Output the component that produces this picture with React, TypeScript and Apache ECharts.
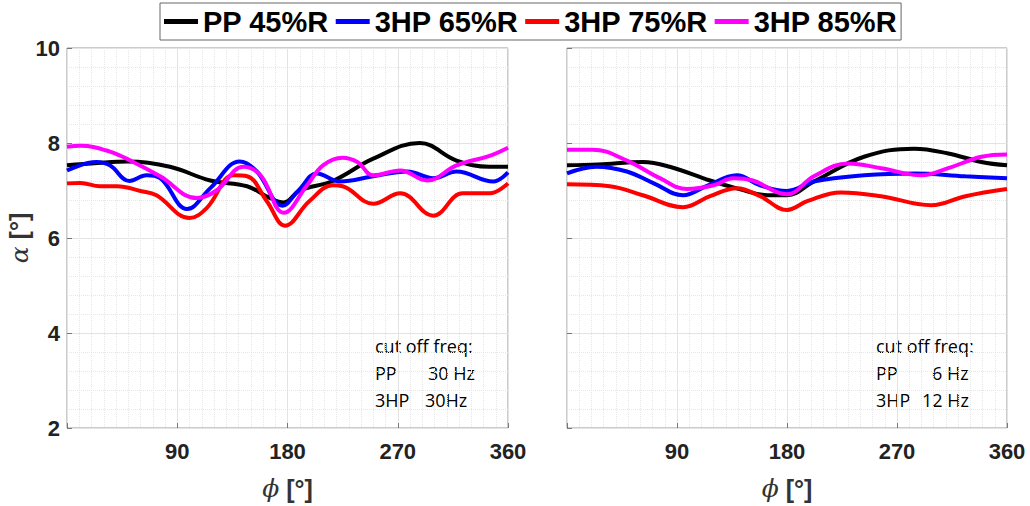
import React, { useEffect, useRef } from 'react';
import * as echarts from 'echarts';

const seriesNames = ['PP 45%R', '3HP 65%R', '3HP 75%R', '3HP 85%R'];
const seriesColors = ['#000000', '#0000ff', '#ff0000', '#ff00ff'];
const xTicks = [0, 90, 180, 270, 360];
const yTicks = [2, 4, 6, 8, 10];

// Left panel (cut off freq 30 Hz / 30 Hz)
const leftPP = [[0, 7.53], [25, 7.58], [50, 7.61], [84, 7.5], [117, 7.21], [147, 7.09], [165, 6.85], [177, 6.75], [190, 7.0], [217, 7.2], [250, 7.67], [288, 8.0], [318, 7.63], [345, 7.5], [360, 7.5]];
const left65 = [[0, 7.42], [24, 7.6], [35, 7.53], [51, 7.2], [65, 7.32], [76, 7.26], [98, 6.61], [117, 7.05], [141, 7.61], [155, 7.4], [176, 6.68], [189, 7.0], [204, 7.36], [223, 7.19], [250, 7.3], [278, 7.4], [299, 7.26], [318, 7.4], [348, 7.19], [360, 7.38]];
const left75 = [[0, 7.15], [11, 7.16], [27, 7.09], [41, 7.09], [60, 6.99], [73, 6.9], [100, 6.42], [114, 6.63], [136, 7.32], [147, 7.3], [163, 6.78], [178, 6.26], [198, 6.78], [217, 7.11], [225, 7.09], [250, 6.72], [272, 6.94], [299, 6.47], [323, 6.94], [345, 6.94], [360, 7.15]];
const left85 = [[0, 7.92], [11, 7.94], [35, 7.82], [54, 7.6], [76, 7.3], [106, 6.84], [122, 7.0], [144, 7.5], [158, 7.32], [177, 6.53], [196, 7.11], [209, 7.53], [225, 7.69], [237, 7.6], [250, 7.32], [272, 7.42], [294, 7.21], [318, 7.53], [345, 7.73], [360, 7.9]];

// Right panel (cut off freq 6 Hz / 12 Hz)
const rightPP = [[0, 7.53], [26, 7.55], [62, 7.6], [84, 7.5], [117, 7.21], [141, 7.03], [164, 6.9], [180, 6.9], [202, 7.19], [243, 7.71], [284, 7.88], [312, 7.78], [339, 7.6], [360, 7.53]];
const right65 = [[0, 7.36], [24, 7.5], [49, 7.4], [71, 7.15], [95, 6.9], [114, 7.09], [139, 7.32], [158, 7.11], [180, 6.99], [202, 7.19], [243, 7.32], [284, 7.36], [326, 7.3], [360, 7.26]];
const right75 = [[0, 7.13], [35, 7.09], [62, 6.9], [95, 6.65], [117, 6.88], [139, 7.05], [158, 6.88], [180, 6.59], [197, 6.78], [224, 6.96], [257, 6.88], [298, 6.69], [326, 6.88], [360, 7.03]];
const right85 = [[0, 7.86], [21, 7.86], [49, 7.63], [76, 7.26], [98, 7.03], [120, 7.11], [136, 7.26], [152, 7.21], [180, 6.92], [202, 7.3], [230, 7.57], [257, 7.47], [290, 7.32], [312, 7.47], [339, 7.71], [360, 7.76]];

const leftNote = ['cut off freq:', 'PP', '30 Hz', '3HP', '30Hz'];
const rightNote = ['cut off freq:', 'PP', '6 Hz', '3HP', '12 Hz'];

const leftData = [leftPP, left65, left75, left85];
const rightData = [rightPP, right65, right75, right85];

const FONT = 'Liberation Sans, Arial, sans-serif';

export default function App() {
  const ref = useRef<HTMLDivElement>(null);
  useEffect(() => {
    const chart = echarts.init(ref.current!, null, { renderer: 'svg' });

    const nameStyle = {
      fontFamily: FONT, fontSize: 25, fontWeight: 'bold', color: '#333',
      rich: {
        i: { fontStyle: 'italic', fontWeight: 'normal', fontFamily: 'DejaVu Serif, serif', fontSize: 25, color: '#333' },
        b: { fontFamily: FONT, fontWeight: 'bold', fontSize: 25, color: '#333' },
      },
    };

    const makeX = (gi: number) => ({
      type: 'value',
      gridIndex: gi,
      min: xTicks[0],
      max: xTicks[xTicks.length - 1],
      interval: 90,
      name: '{i|ϕ}{b| [°]}',
      nameLocation: 'middle',
      nameGap: 48,
      nameTextStyle: nameStyle,
      axisLine: { show: false },
      axisTick: { show: true, inside: true, length: 5, lineStyle: { color: '#777' } },
      axisLabel: {
        fontFamily: FONT, fontWeight: 'bold', fontSize: 22, color: '#222', margin: 12,
        formatter: (v: number) => (v === 0 ? '' : String(v)),
      },
      splitLine: { show: true, lineStyle: { color: '#e3e3e3', width: 1 } },
      minorTick: { show: false, splitNumber: 9 },
      minorSplitLine: { show: true, lineStyle: { color: '#e6e6e6', type: 'dotted', width: 1 } },
    });

    const makeY = (gi: number, labels: boolean) => ({
      type: 'value',
      gridIndex: gi,
      min: yTicks[0],
      max: yTicks[yTicks.length - 1],
      interval: 2,
      name: labels ? '{i|α}{b| [°]}' : '',
      nameLocation: 'middle',
      nameGap: 27,
      nameTextStyle: nameStyle,
      axisLine: { show: false },
      axisTick: { show: true, inside: true, length: 5, lineStyle: { color: '#777' } },
      axisLabel: {
        show: labels, fontFamily: FONT, fontWeight: 'bold', fontSize: 22, color: '#222', margin: 7,
      },
      splitLine: { show: true, lineStyle: { color: '#e3e3e3', width: 1 } },
      minorTick: { show: false, splitNumber: 5 },
      minorSplitLine: { show: true, lineStyle: { color: '#e6e6e6', type: 'dotted', width: 1 } },
    });

    const series: any[] = [];
    [leftData, rightData].forEach((set, gi) => {
      set.forEach((d, i) => {
        series.push({
          type: 'line',
          name: seriesNames[i],
          xAxisIndex: gi,
          yAxisIndex: gi,
          data: d,
          smooth: 0.4,
          showSymbol: false,
          symbol: 'none',
          lineStyle: { color: seriesColors[i], width: 4 },
          itemStyle: { color: seriesColors[i] },
          z: 2 + i,
        });
      });
    });

    const noteTexts = (x0: number, x1: number, x2: number, note: string[]) => {
      const st = (t: string, x: number, y: number) => ({
        type: 'text', left: x, top: y,
        style: { text: t, fontFamily: 'Open Sans, sans-serif', fontSize: 18, fill: '#000' },
      });
      return [
        st(note[0], x0, 337),
        st(note[1], x0, 364),
        st(note[2], x1, 364),
        st(note[3], x0, 391),
        st(note[4], x2, 391),
      ];
    };

    chart.setOption({
      animation: false,
      backgroundColor: '#ffffff',
      legend: {
        data: seriesNames,
        left: 160,
        top: 3,
        icon: 'rect',
        itemWidth: 34,
        itemHeight: 5,
        itemGap: 7,
        padding: [4, 4, 4, 4],
        borderColor: '#666',
        borderWidth: 1,
        textStyle: { fontFamily: FONT, fontWeight: 'bold', fontSize: 29, color: '#000' },
      },
      grid: [
        { left: 67, top: 48, width: 441, height: 385, show: true, borderColor: '#999', borderWidth: 1, backgroundColor: 'transparent' },
        { left: 567, top: 48, width: 440, height: 385, show: true, borderColor: '#999', borderWidth: 1, backgroundColor: 'transparent' },
      ],
      xAxis: [makeX(0), makeX(1)],
      yAxis: [makeY(0, true), makeY(1, false)],
      series,
      graphic: [...noteTexts(375, 428, 425, leftNote), ...noteTexts(876, 932, 922, rightNote)],
    });
    return () => chart.dispose();
  }, []);
  return <div ref={ref} style={{ position: 'fixed', left: 0, top: 0, width: 1030, height: 506 }} />;
}
